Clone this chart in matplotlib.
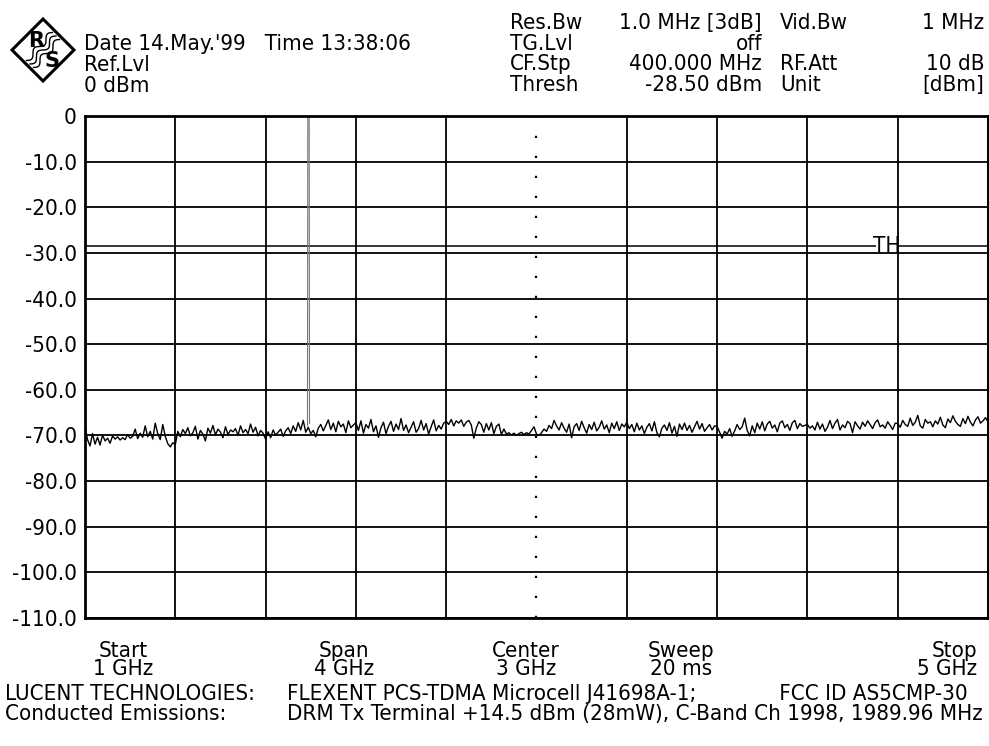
import numpy as np
import matplotlib.pyplot as plt
from matplotlib import font_manager as fm
from matplotlib.patches import Polygon

# sweep 1 GHz .. 5 GHz, trace (dBm), one list per grid division
div1 = [-67.8, -70.9, -72.3, -69.6, -71.9, -70.4, -72.1, -69.9, -71.2, -70.6, -71.7, -70.1,
        -70.8, -70.3, -71.0, -70.5, -70.9, -69.8, -70.6, -70.2, -68.6, -70.7, -69.5, -70.4,
        -67.9, -70.3, -69.1, -70.8, -67.3, -69.6, -70.9, -67.6, -70.2, -71.8, -72.5, -71.6]
div2 = [-72.0, -69.1, -70.3, -68.7, -69.6, -68.3, -70.1, -69.4, -68.0, -70.8, -68.9, -69.7,
        -71.2, -68.4, -69.5, -67.8, -69.9, -68.6, -69.3, -70.5, -68.1, -69.8, -68.8, -69.2,
        -68.5, -70.0, -67.9, -69.4, -68.7, -69.6, -67.5, -69.3, -68.2, -70.1, -68.9, -69.5]
div3 = [-70.8, -69.2, -70.5, -68.8, -69.9, -69.3, -68.6, -70.2, -69.0, -68.3, -69.6, -67.9,
        -69.1, -67.2, -68.8, -66.7, -69.3, -68.2, -69.6, -68.9, -70.3, -68.4, -67.6, -69.0,
        -67.8, -66.6, -68.7, -67.3, -69.2, -66.9, -68.1, -67.5, -69.4, -66.8, -68.3, -67.7]
div4 = [-67.2, -68.9, -66.8, -69.5, -67.6, -68.4, -66.5, -69.2, -67.9, -70.4, -68.3, -67.1,
        -69.6, -68.0, -66.9, -69.1, -67.5, -68.7, -66.3, -68.9, -67.7, -69.4, -68.2, -67.0,
        -69.3, -68.5, -66.7, -68.8, -67.4, -69.7, -68.1, -66.6, -69.0, -67.8, -68.6, -67.3]
div5 = [-66.9, -67.6, -66.5, -67.9, -66.8, -67.3, -66.6, -68.0, -67.1, -66.7, -67.7, -70.6,
        -68.4, -67.0, -67.6, -69.3, -67.4, -68.8, -67.2, -69.6, -68.0, -67.5, -69.8, -68.6,
        -69.7, -69.4, -69.9, -69.5, -70.0, -69.6, -69.3, -69.8, -69.4, -69.7, -68.9, -68.1]
div6 = [-69.7, -70.0, -69.4, -68.6, -69.1, -67.8, -68.5, -66.7, -67.9, -68.8, -67.2, -68.4,
        -69.3, -67.5, -70.5, -68.1, -67.4, -68.9, -66.9, -68.3, -69.5, -67.6, -68.7, -67.1,
        -69.0, -68.2, -66.8, -68.6, -67.7, -69.4, -67.3, -68.5, -67.0, -68.9, -67.5, -68.1]
div7 = [-67.1, -68.5, -67.6, -69.2, -67.3, -68.8, -67.9, -69.6, -68.2, -67.4, -69.0, -67.0,
        -69.4, -70.3, -68.4, -67.7, -68.9, -67.2, -69.5, -68.0, -70.2, -67.5, -68.7, -67.3,
        -68.9, -67.8, -69.3, -68.1, -66.9, -68.6, -67.4, -69.1, -68.3, -67.6, -68.8, -67.9]
div8 = [-68.0, -69.3, -70.6, -69.1, -69.7, -68.5, -70.2, -69.0, -67.6, -68.7, -68.1, -66.2,
        -68.9, -70.1, -67.9, -69.4, -67.3, -68.6, -67.0, -69.0, -67.5, -66.9, -68.4, -67.7,
        -69.2, -67.3, -66.8, -68.3, -67.6, -68.9, -67.2, -66.7, -68.5, -67.4, -68.0, -67.8]
div9 = [-67.6, -68.4, -67.9, -68.8, -67.1, -68.6, -67.5, -69.1, -68.2, -66.7, -68.5, -67.3,
        -66.5, -68.8, -67.7, -68.3, -66.9, -67.4, -69.4, -67.0, -67.9, -68.6, -67.1, -68.0,
        -66.8, -67.6, -68.5, -67.2, -66.6, -68.1, -67.7, -68.4, -67.0, -67.8, -68.7, -67.3]
div10 = [-67.4, -68.2, -66.7, -67.6, -68.0, -66.2, -67.8, -67.1, -65.6, -67.9, -68.4, -66.5,
         -67.3, -67.0, -68.1, -66.8, -67.5, -66.0, -67.7, -68.3, -66.4, -67.2, -65.7, -66.9,
         -67.6, -68.0, -66.3, -67.4, -65.8, -67.1, -67.9, -66.6, -65.9, -67.3, -66.8, -66.1, -67.0]
level_dbm = div1 + div2 + div3 + div4 + div5 + div6 + div7 + div8 + div9 + div10

start_ghz, stop_ghz = 1.0, 5.0
center_ghz = 3.0
freq_ghz = np.linspace(start_ghz, stop_ghz, len(level_dbm))

# carrier at 1989.96 MHz, goes off the top of the screen
spike_ghz = [1.9855, 1.9870, 1.9930, 1.9945]
spike_dbm = [-67.8, 1.0, 1.0, -67.4]

thresh_dbm = -28.5
ref_lvl = 0
y_ticks = [0, -10, -20, -30, -40, -50, -60, -70, -80, -90, -100, -110]
y_labels = ["0", "-10.0", "-20.0", "-30.0", "-40.0", "-50.0", "-60.0",
            "-70.0", "-80.0", "-90.0", "-100.0", "-110.0"]


def pick_font(size):
    # the analyzer font is tall and narrow -> condensed DejaVu if we have it
    p = fm.findfont(fm.FontProperties(family="DejaVu Sans", stretch="condensed"))
    if "Condensed" in p:
        return dict(family="DejaVu Sans", stretch="condensed", fontsize=size, color="black"), 1.0, 13
    return dict(family="DejaVu Sans Mono", fontsize=size * 0.84, color="black"), 1.19, 7


FONT, LS, GAP = pick_font(16)

W, H = 989, 746
fig = plt.figure(figsize=(W / 100, H / 100), dpi=100)
ax = fig.add_axes([85 / W, 1 - 618 / H, 903 / W, 502 / H])

ax.set_xlim(start_ghz, stop_ghz)
ax.set_ylim(-110, ref_lvl)

# graticule
for f in np.arange(start_ghz, stop_ghz + 0.01, 0.4):
    if abs(f - center_ghz) < 1e-6:
        ax.axvline(f, color="black", lw=1.6, linestyle=(0, (1, 8)))
    else:
        ax.axvline(f, color="black", lw=1.3)
for v in y_ticks:
    ax.axhline(v, color="black", lw=1.3)

# threshold line with TH marker
ax.hlines(thresh_dbm, start_ghz, 4.505, color="black", lw=1.1)
ax.hlines(thresh_dbm, 4.6, stop_ghz, color="black", lw=1.1)
ax.text(4.553, thresh_dbm, "TH", ha="center", va="center", **FONT)

ax.plot(spike_ghz, spike_dbm, color="#777777", lw=0.8, clip_on=True)
ax.plot(freq_ghz, level_dbm, color="black", lw=1.0)

ax.set_yticks(y_ticks)
ax.set_yticklabels(y_labels, **FONT)
ax.set_xticks([])
ax.tick_params(axis="y", length=0, pad=6)
for s in ax.spines.values():
    s.set_linewidth(2)


def px(x, y, s, ha="left", ls=1.0):
    fig.text(x / W, 1 - y / H, s, ha=ha, ma=ha, va="center", linespacing=ls * LS, **FONT)


# header, left block
px(84, 65, "Date 14.May.'99   Time 13:38:06\nRef.Lvl\n0 dBm", ls=1.05)

# header, right block
px(510, 54, "Res.Bw\nTG.Lvl\nCF.Stp\nThresh", ls=1.05)
px(762, 54, "1.0 MHz [3dB]\noff\n400.000 MHz\n-28.50 dBm", ha="right", ls=1.05)
px(780, 54, "Vid.Bw\n\nRF.Att\nUnit", ls=1.05)
px(984, 54, "1 MHz\n\n10 dB\n[dBm]", ha="right", ls=1.05)

# logo
cx, cy, r = 43, 50, 31
diamond = [(cx - r, cy), (cx, cy - r), (cx + r, cy), (cx, cy + r)]
fig.patches.append(Polygon([(x / W, 1 - y / H) for x, y in diamond], closed=True,
                           fill=False, lw=2.2, ec="black", transform=fig.transFigure))
fig.text(36 / W, 1 - 41 / H, "R", ha="center", va="center", family="DejaVu Sans",
         fontsize=15, fontweight="bold")
fig.text(52 / W, 1 - 61 / H, "S", ha="center", va="center", family="DejaVu Sans",
         fontsize=15, fontweight="bold")
t = np.linspace(0, 1, 40)
for off in (-5, 0, 5):
    wx = 30 + 26 * t + off * 0.7 + 2 * np.sin(t * 4 * np.pi)
    wy = 64 - 28 * t + off * 0.7 + 2 * np.sin(t * 4 * np.pi)
    fig.add_artist(plt.Line2D(wx / W, 1 - wy / H, color="black", lw=1.0,
                              transform=fig.transFigure))

# footer
px(123, 660, "Start\n1 GHz", ha="center", ls=0.845)
px(344, 660, "Span\n4 GHz", ha="center", ls=0.845)
px(526, 660, "Center\n3 GHz", ha="center", ls=0.845)
px(681, 660, "Sweep\n20 ms", ha="center", ls=0.845)
px(977, 660, "Stop\n5 GHz", ha="right", ls=0.845)

px(5, 704, "LUCENT TECHNOLOGIES:\nConducted Emissions:", ls=0.94)
px(287, 704, "FLEXENT PCS-TDMA Microcell J41698A-1;" + " " * GAP + "FCC ID AS5CMP-30\n"
    "DRM Tx Terminal +14.5 dBm (28mW), C-Band Ch 1998, 1989.96 MHz", ls=0.94)

fig.savefig("out.png", dpi=100)
